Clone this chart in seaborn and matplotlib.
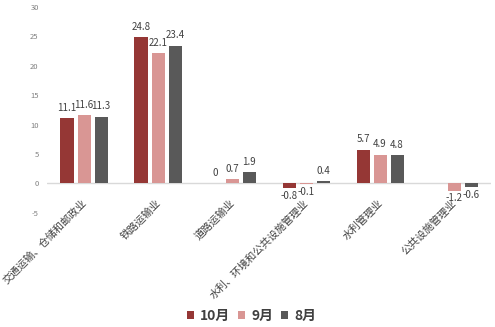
import numpy as np
import pandas as pd
import matplotlib
matplotlib.use("Agg")
import matplotlib.pyplot as plt
import matplotlib.transforms as mtransforms
import seaborn as sns

categories = ["交通运输、仓储和邮政业", "铁路运输业", "道路运输业",
              "水利、环境和公共设施管理业", "水利管理业", "公共设施管理业"]
series = ["10月", "9月", "8月"]
oct_vals = [11.1, 24.8, 0.0, -0.8, 5.7, np.nan]
sep_vals = [11.6, 22.1, 0.7, -0.1, 4.9, -1.2]
aug_vals = [11.3, 23.4, 1.9, 0.4, 4.8, -0.6]
colors = ["#953735", "#D99694", "#595959"]
yticks = [-5, 0, 5, 10, 15, 20, 25, 30]

sns.set_theme(style="white")
plt.rcParams['font.family'] = ['Noto Sans CJK SC', 'DejaVu Sans']

rows = []
for s, vals in zip(series, [oct_vals, sep_vals, aug_vals]):
    for c, v in zip(categories, vals):
        rows.append({"cat": c, "series": s, "val": v})
df = pd.DataFrame(rows)

fig = plt.figure(figsize=(4.95, 3.27), dpi=100)
ax = fig.add_axes([0.095, 0.349, 0.897, 0.630])
sns.barplot(data=df, x="cat", y="val", hue="series", order=categories,
            hue_order=series, palette=colors, width=0.69, gap=0.235,
            saturation=1, errorbar=None, ax=ax, legend=True, linewidth=0)

ax.set_ylim(-5, 30)
ax.set_yticks(yticks)
ax.set_yticklabels([str(t) for t in yticks], fontsize=5.5, color="#808080")
ax.set_xlim(-0.5, len(categories) - 0.5)
ax.set_xlabel("")
ax.set_ylabel("")
for sp in ax.spines.values():
    sp.set_visible(False)
ax.axhline(0, color="#D9D9D9", lw=1, zorder=0)
ax.tick_params(axis="x", length=0, pad=2)
ax.tick_params(axis="y", length=0, pad=6)
ax.set_xticks(range(len(categories)))
ax.set_xticklabels(categories, rotation=45, ha="right", rotation_mode="anchor",
                   fontsize=7.5, color="#404040")
offset = mtransforms.ScaledTranslation(-0.025, 0.18, fig.dpi_scale_trans)
for lab in ax.get_xticklabels():
    lab.set_transform(lab.get_transform() + offset)

for cont, vals in zip(ax.containers, [oct_vals, sep_vals, aug_vals]):
    for bar, v in zip(cont, vals):
        if v is None or (isinstance(v, float) and np.isnan(v)):
            continue
        x = bar.get_x() + bar.get_width() / 2
        txt = f"{v:g}"
        if v >= 0:
            ax.annotate(txt, (x, v), xytext=(0, 4), textcoords="offset points",
                        ha="center", va="bottom", fontsize=7, color="#404040")
        else:
            ax.annotate(txt, (x, v), xytext=(0, -2), textcoords="offset points",
                        ha="center", va="top", fontsize=7, color="#404040")

handles, labels = ax.get_legend_handles_labels()
ax.legend_.remove()
leg = fig.legend(handles, labels, loc="center", bbox_to_anchor=(0.508, 0.034),
                 ncol=3, frameon=False, handlelength=0.5,
                 handleheight=0.5, handletextpad=0.43, columnspacing=0.6,
                 borderpad=0, prop={"weight": "bold", "size": 10})
for t in leg.get_texts():
    t.set_color("#404040")

fig.savefig("out.png", dpi=100)
